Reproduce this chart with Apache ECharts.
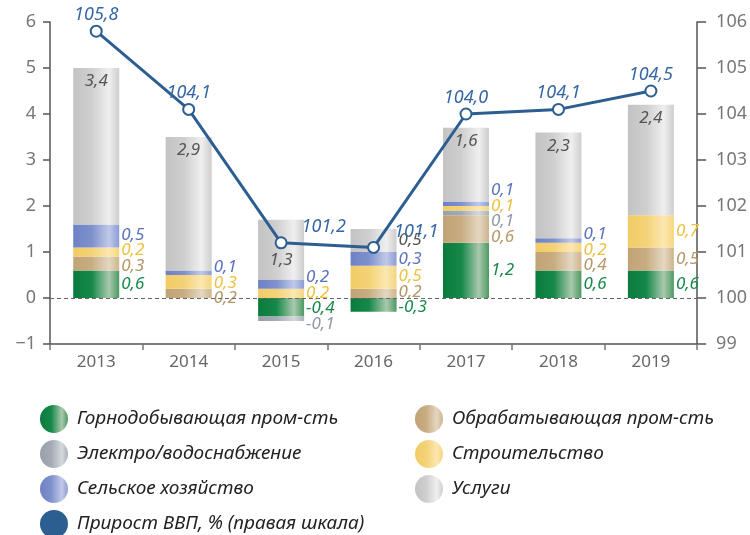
<!DOCTYPE html>
<html>
<head>
<meta charset="utf-8">
<script src="https://cdn.jsdelivr.net/npm/echarts@6/dist/echarts.min.js"></script>
<style>
  html, body { margin: 0; padding: 0; background: #fff; }
  #chart { width: 750px; height: 535px; }
</style>
</head>
<body>
<div id="chart"></div>
<script>
const years = ['2013', '2014', '2015', '2016', '2017', '2018', '2019']

// вклад отраслей, п.п.
const mining = [0.6, null, -0.4, -0.3, 1.2, 0.6, 0.6]
const manufacturing = [0.3, 0.2, null, 0.2, 0.6, 0.4, 0.5]
const utilities = [null, null, -0.1, null, 0.1, null, null]
const construction = [0.2, 0.3, 0.2, 0.5, 0.1, 0.2, 0.7]
const agriculture = [0.5, 0.1, 0.2, 0.3, 0.1, 0.1, null]
const services = [3.4, 2.9, 1.3, 0.5, 1.6, 2.3, 2.4]

// прирост ВВП, %
const gdp = [105.8, 104.1, 101.2, 101.1, 104.0, 104.1, 104.5]

const leftTicks = [-1, 0, 1, 2, 3, 4, 5, 6]
const rightTicks = [99, 100, 101, 102, 103, 104, 105, 106]

const FONT = 'Noto Sans'

const grad = (stops) => new echarts.graphic.LinearGradient(0, 0, 1, 0,
  stops.map(([offset, color]) => ({ offset, color })))

const barDefs = [
  { name: 'Горнодобывающая пром-сть', data: mining, label: '#17894a',
    fill: grad([[0, '#0a7b3d'], [0.4, '#168848'], [0.78, '#a9c9ad'], [1, '#4c9a63']]) },
  { name: 'Обрабатывающая пром-сть', data: manufacturing, label: '#b49766',
    fill: grad([[0, '#c1a375'], [0.4, '#c8ad82'], [0.78, '#e4d7c1'], [1, '#cdb58e']]) },
  { name: 'Электро/водоснабжение', data: utilities, label: '#8e99a6',
    fill: grad([[0, '#98a1ab'], [0.4, '#a3abb4'], [0.78, '#d5d9de'], [1, '#a9b1b9']]) },
  { name: 'Строительство', data: construction, label: '#eec23f',
    fill: grad([[0, '#f2cb66'], [0.4, '#f4d276'], [0.78, '#fbe7b0'], [1, '#f5d580']]) },
  { name: 'Сельское хозяйство', data: agriculture, label: '#5a73bf',
    fill: grad([[0, '#6d81c5'], [0.4, '#7f91cc'], [0.78, '#c1c9e9'], [1, '#8d9cd3']]) },
  { name: 'Услуги', data: services, label: '#555555',
    fill: grad([[0, '#c3c3c3'], [0.4, '#cfcfcf'], [0.78, '#efefef'], [1, '#cecece']]) }
]

const fmt = (v) => String(v).replace('.', ',')
const minusFmt = (v) => (v < 0 ? '\u2212' + Math.abs(v) : String(v))

const stackTop = (i) => barDefs.reduce((acc, d) => acc + (d.data[i] > 0 ? d.data[i] : 0), 0)

// раздвигаем подписи справа от столбца, чтобы не налезали
function spread (ys, gap) {
  let blocks = ys.map((y, k) => ({ ids: [k], sum: y, start: y }))
  let merged = true
  while (merged) {
    merged = false
    for (let b = 0; b < blocks.length - 1; b++) {
      const a = blocks[b], c = blocks[b + 1]
      if (a.start + a.ids.length * gap > c.start) {
        const ids = a.ids.concat(c.ids)
        const sum = a.sum + c.sum
        const mean = sum / ids.length
        blocks.splice(b, 2, { ids, sum, start: mean - (ids.length - 1) * gap / 2 })
        merged = true
        break
      }
    }
  }
  const out = []
  blocks.forEach(bl => bl.ids.forEach((id, j) => { out[id] = bl.start + j * gap }))
  return out
}

function labelOffsets (pxPerUnit) {
  const offsets = barDefs.map(() => years.map(() => 0))
  years.forEach((_, i) => {
    let pos = 0, neg = 0
    const items = []
    barDefs.forEach((d, s) => {
      const v = d.data[i]
      if (v == null) return
      let center
      if (v >= 0) { center = pos + v / 2; pos += v } else { center = neg + v / 2; neg += v }
      const inside = d.name === 'Услуги' && v >= 1
      if (!inside) items.push({ s, y: -center * pxPerUnit })
    })
    items.sort((a, b) => a.y - b.y)
    const placed = spread(items.map(it => it.y), 15.5)
    items.forEach((it, k) => { offsets[it.s][i] = placed[k] - it.y })
  })
  return offsets
}

function servicesLabel (i, v) {
  // точка ВВП внутри столбца — подпись ниже линии
  if (gdp[i] - 100 < stackTop(i)) return { position: 'inside', offset: [0, 10] }
  return { position: 'insideTop', distance: 5 }
}

const chart = echarts.init(document.getElementById('chart'))

function buildOption (offsets) {
  const barSeries = barDefs.map((d, s) => ({
    name: d.name,
    type: 'bar',
    stack: 'gdp',
    barWidth: 46,
    itemStyle: { color: d.fill },
    data: d.data.map((v, i) => {
      const inside = d.name === 'Услуги' && v != null && v >= 1
      return {
        value: v,
        label: inside
          ? servicesLabel(i, v)
          : { position: 'right', distance: 2, offset: [0, offsets[s][i]] }
      }
    }),
    label: {
      show: true,
      fontFamily: FONT,
      fontStyle: 'italic',
      fontSize: 17,
      color: d.label,
      formatter: (p) => (p.value == null ? '' : fmt(p.value))
    }
  }))

  const legendBase = {
    orient: 'vertical', top: 405, height: 140, padding: 0,
    itemWidth: 28, itemHeight: 28, itemGap: 7, icon: 'circle',
    textStyle: { fontFamily: FONT, fontStyle: 'italic', fontSize: 19, color: '#222', padding: [0, 0, 0, 4] }
  }

  return {
    animation: false,
    backgroundColor: '#fff',
    textStyle: { fontFamily: FONT },
    grid: { left: 50, right: 50, top: 22, bottom: 191 },
    legend: [
      Object.assign({}, legendBase, {
        left: 40,
        data: ['Горнодобывающая пром-сть', 'Электро/водоснабжение', 'Сельское хозяйство',
          { name: 'Прирост ВВП, % (правая шкала)', itemStyle: { color: '#2c5e92' } }]
      }),
      Object.assign({}, legendBase, {
        left: 415,
        data: ['Обрабатывающая пром-сть', 'Строительство', 'Услуги']
      })
    ],
    xAxis: {
      type: 'category',
      data: years,
      axisLine: { onZero: false, lineStyle: { color: '#555', width: 1.5 } },
      axisTick: { show: true, length: 6, lineStyle: { color: '#777', width: 1.5 } },
      axisLabel: { fontSize: 17, color: '#666', margin: 10 }
    },
    yAxis: [
      {
        type: 'value', min: leftTicks[0], max: leftTicks[leftTicks.length - 1], interval: 1,
        axisLine: { show: true, lineStyle: { color: '#555', width: 1.5 } },
        axisTick: { show: true, length: 7, lineStyle: { color: '#555', width: 1.5 } },
        axisLabel: { fontSize: 18, color: '#777', margin: 14, formatter: minusFmt },
        splitLine: { show: false }
      },
      {
        type: 'value', min: rightTicks[0], max: rightTicks[rightTicks.length - 1], interval: 1,
        position: 'right',
        axisLine: { show: true, lineStyle: { color: '#555', width: 1.5 } },
        axisTick: { show: true, length: 9, lineStyle: { color: '#555', width: 1.5 } },
        axisLabel: { fontSize: 18, color: '#777', margin: 19 },
        splitLine: { show: false }
      }
    ],
    series: [
      {
        name: 'zero',
        type: 'line',
        data: [],
        z: 1,
        silent: true,
        markLine: {
          symbol: 'none',
          silent: true,
          label: { show: false },
          lineStyle: { color: '#666', type: [4, 3], width: 1 },
          data: [{ yAxis: 0 }]
        }
      },
      ...barSeries,
      {
        name: 'Прирост ВВП, % (правая шкала)',
        type: 'line',
        yAxisIndex: 1,
        z: 5,
        symbol: 'emptyCircle',
        symbolSize: 11,
        lineStyle: { color: '#2c5e92', width: 3 },
        itemStyle: { color: '#2c5e92', borderWidth: 3 },
        data: gdp.map((v, i) => ({
          value: v,
          label: (i === 2 || i === 3)
            ? { position: 'right', offset: [9, -16] }
            : { position: 'top', distance: 1 }
        })),
        label: {
          show: true,
          fontFamily: FONT,
          fontStyle: 'italic',
          fontSize: 18,
          color: '#3566a5',
          formatter: (p) => fmt(p.value.toFixed(1))
        }
      }
    ]
  }
}

chart.setOption(buildOption(barDefs.map(() => years.map(() => 0))))
const pxPerUnit = chart.convertToPixel({ yAxisIndex: 0 }, 0) - chart.convertToPixel({ yAxisIndex: 0 }, 1)
chart.setOption(buildOption(labelOffsets(pxPerUnit)))

window.addEventListener('resize', () => chart.resize())
</script>
</body>
</html>
